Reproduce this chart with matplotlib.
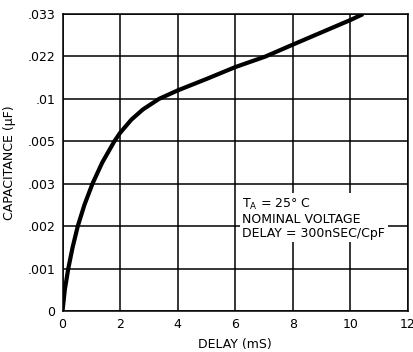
#!/usr/bin/env python3

import matplotlib
matplotlib.use('Agg')
import matplotlib.pyplot as plt
import numpy as np

# Capacitance grid levels (equally spaced on the chart)
cap_levels = [0, 0.001, 0.002, 0.003, 0.005, 0.01, 0.022, 0.033]
cap_labels = ['0', '.001', '.002', '.003', '.005', '.01', '.022', '.033']
delay_ticks = [0, 2, 4, 6, 8, 10, 12]

# Delay (mS) vs capacitance (uF)
delay_ms = [0, 0.08, 0.2, 0.35, 0.53, 0.76, 1.04, 1.38, 1.8, 2.0, 2.39,
            2.79, 3.35, 4.0, 5.0, 6.0, 7.05, 8.0, 9.0, 10.0, 10.44]
cap_uf = [0, 0.0005, 0.001, 0.0015, 0.002, 0.0025, 0.003, 0.004, 0.005,
          0.006, 0.00755, 0.00875, 0.01, 0.0124, 0.01564, 0.019, 0.022,
          0.02508, 0.02827, 0.03146, 0.033]

notes = ['T$_\\mathregular{A}$ = 25° C', 'NOMINAL VOLTAGE',
         'DELAY = 300nSEC/CpF']


def to_index(y):
    return np.interp(y, cap_levels, np.arange(len(cap_levels)))


def from_index(i):
    return np.interp(i, np.arange(len(cap_levels)), cap_levels)


def main():
    plt.rcParams['font.family'] = 'DejaVu Sans'
    plt.rcParams['font.size'] = 9

    fig = plt.figure(figsize=(4.14, 3.52), dpi=100)
    ax = fig.add_axes([0.151, 0.1165, 0.8345, 0.8435])

    ax.set_yscale('function', functions=(to_index, from_index))
    ax.set_xlim(0, 12)
    ax.set_ylim(0, 0.033)
    ax.set_xticks(delay_ticks)
    ax.set_yticks(cap_levels)
    ax.set_yticklabels(cap_labels)
    ax.yaxis.set_minor_locator(matplotlib.ticker.NullLocator())
    ax.tick_params(length=0, pad=5, labelsize=9)

    ax.grid(True, color='black', linewidth=1.1)
    for s in ax.spines.values():
        s.set_linewidth(1.1)

    ax.plot(delay_ms, cap_uf, color='black', linewidth=3,
            solid_joinstyle='round', solid_capstyle='butt', zorder=3)

    ax.text(6.25, 0.0027, '\n'.join(notes), fontsize=9, va='top',
            ha='left', linespacing=1.1, zorder=4,
            bbox=dict(facecolor='white', edgecolor='none', pad=2))

    ax.set_xlabel('DELAY (mS)', fontsize=9, labelpad=5)
    ax.set_ylabel('CAPACITANCE (µF)', fontsize=9, labelpad=8)

    plt.savefig('out.png', dpi=100)


if __name__ == '__main__':
    main()
